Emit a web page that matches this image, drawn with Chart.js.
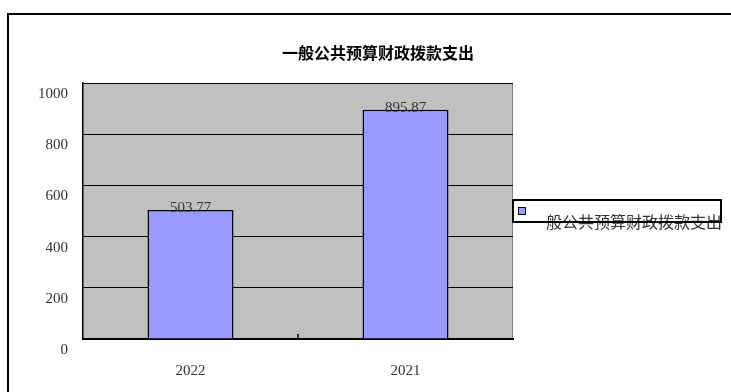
<!DOCTYPE html>
<html>
<head>
<meta charset="utf-8">
<script src="https://cdn.jsdelivr.net/npm/chart.js@4.4.0/dist/chart.umd.min.js"></script>
<style>
  html, body { margin: 0; padding: 0; background: #fff; }
  #wrap { width: 731px; height: 392px; }
</style>
</head>
<body>
<div id="wrap"><canvas id="myChart" width="731" height="392"></canvas></div>
<script>
const title = "一般公共预算财政拨款支出";
const years = ["2022", "2021"];
const spending = [503.77, 895.87];
const seriesName = "一般公共预算财政拨款支出";

const serif = "'Liberation Serif', 'DejaVu Serif', serif";
const cjk = "'Noto Sans CJK SC', sans-serif";

// outer frame, grey plot background and the little tick between categories
const frame = {
  id: "frame",
  beforeDraw(chart) {
    const c = chart.ctx;
    const a = chart.chartArea;
    c.save();
    c.fillStyle = "#c0c0c0";
    c.fillRect(a.left, a.top, a.right - a.left, a.bottom - a.top);
    c.strokeStyle = "#808080";
    c.lineWidth = 1;
    c.beginPath();
    c.moveTo(a.left, a.top + 0.5);
    c.lineTo(a.right - 0.5, a.top + 0.5);
    c.lineTo(a.right - 0.5, a.bottom);
    c.stroke();
    c.strokeStyle = "#000";
    c.lineWidth = 2;
    c.beginPath();
    c.moveTo(8, 400);
    c.lineTo(8, 14);
    c.lineTo(731, 14);
    c.stroke();
    c.fillStyle = "#000";
    c.font = "bold 16px " + cjk;
    c.textAlign = "center";
    c.textBaseline = "middle";
    c.fillText(title, 378, 53);
    c.restore();
  },
  afterDraw(chart) {
    const c = chart.ctx;
    const a = chart.chartArea;
    const x = chart.scales.x;
    c.save();
    c.strokeStyle = "#000";
    c.lineWidth = 1.5;
    for (let i = 1; i < years.length; i++) {
      const px = x.getPixelForValue(i - 0.5);
      c.beginPath();
      c.moveTo(px, a.bottom);
      c.lineTo(px, a.bottom - 5);
      c.stroke();
    }
    // value labels over each bar
    const meta = chart.getDatasetMeta(0);
    c.fillStyle = "#333";
    c.font = "15px " + serif;
    c.textAlign = "center";
    c.textBaseline = "middle";
    meta.data.forEach(function (bar, i) {
      c.fillText(spending[i].toFixed(2), bar.x, bar.y - 2);
    });
    // legend box
    const lx = 513, ly = 200, lw = 208, lh = 22;
    c.fillStyle = "#333";
    c.font = "16px " + cjk;
    c.textAlign = "left";
    c.fillText(chart.data.datasets[0].label, 530, 222);
    c.strokeStyle = "#000";
    c.lineWidth = 2;
    c.strokeRect(lx, ly, lw, lh);
    c.fillStyle = "#9999ff";
    c.fillRect(518, 207, 7, 7);
    c.lineWidth = 1;
    c.strokeRect(518.5, 207.5, 7, 7);
    c.restore();
  }
};

new Chart("myChart", {
  type: "bar",
  data: {
    labels: years,
    datasets: [
      {
        label: seriesName,
        data: spending,
        backgroundColor: "#9999ff",
        borderColor: "#000",
        borderWidth: 1.5,
        barPercentage: 0.4,
        categoryPercentage: 1
      }
    ]
  },
  options: {
    responsive: false,
    animation: false,
    layout: { padding: { left: 0, top: 83, right: 218, bottom: 0 } },
    plugins: {
      legend: { display: false },
      title: { display: false },
      tooltip: { enabled: false }
    },
    scales: {
      x: {
        grid: { display: false, drawTicks: false },
        border: { color: "#000", width: 2 },
        ticks: { color: "#333", padding: 23, font: { family: serif, size: 15 } },
        afterFit(scale) { scale.height = 53; }
      },
      y: {
        min: 0,
        max: 1000,
        ticks: {
          stepSize: 200,
          color: "#333",
          padding: 15,
          labelOffset: 11,
          font: { family: serif, size: 15 },
          callback: function (v) { return String(v); }
        },
        grid: { color: "#000", lineWidth: 1, drawTicks: false },
        border: { color: "#000", width: 1.5 },
        afterFit(scale) { scale.width = 83; }
      }
    }
  },
  plugins: [frame]
});
</script>
</body>
</html>
